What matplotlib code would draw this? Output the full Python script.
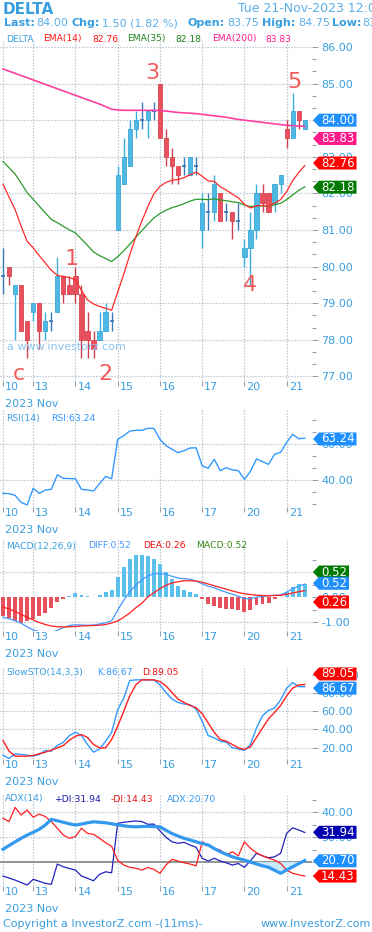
import matplotlib.pyplot as plt
import numpy as np
from matplotlib.patches import Polygon
from matplotlib.transforms import IdentityTransform, ScaledTranslation
from matplotlib.ticker import FixedLocator, FormatStrFormatter

# hourly bars, 10-Nov to 21-Nov-2023
day_pos = [0, 5, 12, 19, 26, 33, 40, 47]
day_labels = ['10', '13', '14', '15', '16', '17', '20', '21']

opens = [79.75, 80.0, 79.25, 79.5, 78.5, 78.75, 79.0, 78.25, 78.5, 78.75,
         79.75, 79.5, 79.75, 79.25, 78.25, 78.0, 78.0, 78.25, 78.5, 81.0,
         82.25, 82.75, 83.75, 84.0, 84.0, 84.25, 85.0, 83.5, 83.0, 82.75,
         82.75, 82.5, 82.75, 81.0, 81.5, 81.5, 82.0, 81.5, 81.5, 81.25,
         80.25, 80.5, 81.0, 82.0, 82.0, 81.75, 82.25, 83.75, 83.5, 84.25,
         83.75]
highs = [80.5, 80.0, 79.5, 79.5, 78.5, 79.0, 79.0, 78.75, 78.75, 80.25,
         79.75, 79.75, 80.0, 79.5, 78.75, 78.25, 78.75, 79.0, 78.75, 82.75,
         83.5, 84.0, 84.25, 84.5, 84.25, 84.5, 85.0, 83.75, 83.25, 82.75,
         83.0, 83.0, 83.0, 82.0, 82.0, 82.5, 82.0, 81.75, 81.5, 81.75,
         80.75, 81.5, 82.25, 82.25, 82.0, 82.25, 82.5, 84.0, 84.75, 84.25,
         84.0]
lows = [79.25, 79.5, 78.0, 78.25, 77.5, 78.5, 77.75, 78.0, 78.25, 78.75,
        79.0, 79.25, 79.0, 77.5, 77.5, 77.5, 78.0, 78.25, 78.25, 81.0,
        82.25, 82.75, 83.5, 83.75, 83.5, 84.0, 83.5, 82.75, 82.25, 82.25,
        82.5, 82.5, 82.5, 80.5, 81.0, 81.25, 81.25, 81.25, 80.75, 81.0,
        80.0, 79.5, 80.75, 81.5, 81.5, 81.5, 82.0, 83.25, 83.5, 83.75,
        83.75]
closes = [79.75, 79.75, 79.5, 78.25, 78.0, 79.0, 78.25, 78.5, 78.5, 79.75,
          79.25, 79.25, 79.25, 78.0, 78.0, 77.75, 78.25, 78.75, 78.5, 82.5,
          83.0, 83.75, 84.0, 84.0, 84.25, 84.25, 83.5, 83.0, 82.75, 82.5,
          82.75, 83.0, 82.75, 81.75, 81.5, 82.25, 81.25, 81.5, 81.25, 81.25,
          80.5, 81.0, 82.0, 81.75, 81.5, 82.25, 82.5, 83.5, 84.25, 84.0,
          84.0]

ema14 = [82.25, 81.90, 81.56, 81.10, 80.69, 80.51, 80.30, 80.10, 79.90, 79.76,
         79.73, 79.70, 79.64, 79.35, 79.09, 78.98, 78.91, 78.86, 78.81, 79.30,
         79.79, 80.32, 80.81, 81.24, 81.64, 81.99, 82.19, 82.30, 82.36, 82.38,
         82.43, 82.51, 82.58, 82.47, 82.34, 82.33, 82.18, 82.09, 81.98, 81.88,
         81.70, 81.60, 81.66, 81.67, 81.65, 81.73, 81.83, 82.05, 82.35, 82.57,
         82.76]
ema35 = [82.87, 82.70, 82.53, 82.28, 82.02, 81.84, 81.65, 81.47, 81.29, 81.20,
         81.10, 81.00, 80.92, 80.75, 80.58, 80.40, 80.30, 80.22, 80.14, 80.27,
         80.43, 80.61, 80.80, 80.98, 81.16, 81.33, 81.45, 81.54, 81.61, 81.66,
         81.72, 81.79, 81.84, 81.84, 81.83, 81.85, 81.82, 81.80, 81.77, 81.75,
         81.68, 81.64, 81.66, 81.66, 81.65, 81.69, 81.73, 81.83, 81.96, 82.08,
         82.18]
ema200 = [85.40, 85.34, 85.28, 85.22, 85.16, 85.10, 85.04, 84.98, 84.92, 84.86,
          84.80, 84.74, 84.68, 84.62, 84.56, 84.50, 84.44, 84.37, 84.30, 84.28,
          84.27, 84.27, 84.27, 84.27, 84.27, 84.27, 84.26, 84.25, 84.23, 84.21,
          84.20, 84.19, 84.18, 84.16, 84.14, 84.12, 84.10, 84.08, 84.05, 84.02,
          84.00, 83.98, 83.96, 83.94, 83.92, 83.90, 83.88, 83.86, 83.85, 83.84,
          83.83]

rsi = [32.6, 32.4, 31.5, 27.6, 26.1, 35.4, 32.6, 34.4, 34.8, 42.9,
       40.9, 40.8, 40.7, 34.8, 34.5, 33.9, 38.0, 42.0, 40.7, 62.6,
       64.6, 67.2, 67.6, 67.6, 68.7, 68.7, 62.6, 59.1, 57.1, 55.2,
       56.3, 57.8, 57.9, 47.9, 46.5, 51.5, 45.2, 46.9, 45.6, 45.2,
       40.4, 44.8, 51.7, 50.2, 48.7, 54.3, 55.4, 60.9, 65.4, 62.9,
       63.24]

macd_diff = [-0.81, -0.87, -0.95, -1.05, -1.19, -1.32, -1.38, -1.42, -1.44, -1.33,
             -1.22, -1.14, -1.11, -1.12, -1.13, -1.12, -1.08, -1.03, -0.95, -0.53,
             -0.13, 0.20, 0.47, 0.69, 0.84, 0.93, 0.93, 0.91, 0.83, 0.76,
             0.73, 0.71, 0.64, 0.53, 0.43, 0.37, 0.27, 0.19, 0.11, 0.03,
             -0.07, -0.06, -0.01, 0.02, 0.05, 0.07, 0.08, 0.20, 0.33, 0.43,
             0.52]
macd_dea = [-0.40, -0.48, -0.58, -0.70, -0.81, -0.92, -1.02, -1.10, -1.16, -1.19,
            -1.20, -1.19, -1.18, -1.16, -1.15, -1.14, -1.13, -1.10, -1.04, -0.96,
            -0.81, -0.64, -0.43, -0.25, 0.00, 0.17, 0.33, 0.47, 0.56, 0.61,
            0.65, 0.65, 0.64, 0.59, 0.52, 0.45, 0.38, 0.31, 0.24, 0.18,
            0.13, 0.10, 0.07, 0.06, 0.05, 0.06, 0.07, 0.11, 0.16, 0.21,
            0.26]
macd_hist = [-0.77, -0.85, -0.95, -1.03, -0.95, -0.89, -0.77, -0.65, -0.45, -0.19,
             -0.07, 0.05, 0.15, 0.07, 0.03, 0.02, 0.09, 0.21, 0.28, 0.81,
             1.21, 1.52, 1.68, 1.68, 1.64, 1.52, 1.31, 1.01, 0.71, 0.45,
             0.28, 0.21, 0.12, -0.09, -0.28, -0.35, -0.43, -0.48, -0.49, -0.52,
             -0.59, -0.52, -0.33, -0.28, -0.23, -0.09, 0.02, 0.21, 0.41, 0.51,
             0.52]

sto_k = [11.6, 8.0, 13.1, 12.4, 11.6, 10.5, 12.4, 16.7, 16.0, 22.2,
         25.8, 33.1, 36.7, 33.1, 23.3, 14.9, 18.5, 26.9, 36.7, 61.4,
         74.2, 93.4, 94.2, 94.2, 94.2, 94.2, 88.7, 80.3, 73.1, 69.4,
         67.7, 66.9, 62.2, 48.7, 33.1, 30.6, 26.9, 25.8, 19.6, 18.5,
         16.7, 23.3, 41.5, 54.9, 60.7, 63.3, 72.3, 85.1, 91.2, 86.8,
         86.67]
sto_d = [27.6, 16.0, 10.5, 10.5, 10.5, 11.3, 13.1, 14.9, 17.1, 19.6,
         22.2, 28.0, 32.4, 34.2, 31.0, 23.3, 19.6, 19.6, 28.7, 43.3,
         59.6, 76.7, 88.7, 94.2, 94.2, 94.2, 92.3, 87.6, 80.3, 73.1,
         69.4, 66.1, 63.6, 57.1, 46.9, 36.7, 28.7, 26.9, 23.3, 19.6,
         17.8, 20.7, 31.0, 41.5, 51.4, 58.5, 66.1, 76.7, 85.1, 88.7,
         89.05]

adx = [25.2, 26.7, 28.2, 29.6, 30.9, 32.0, 33.2, 34.9, 37.2, 36.6,
       36.0, 35.4, 34.9, 35.3, 35.8, 36.2, 36.0, 35.8, 35.4, 35.0,
       34.6, 34.3, 34.2, 34.3, 34.4, 34.3, 34.2, 32.8, 31.5, 30.5,
       29.6, 28.9, 28.2, 27.5, 26.9, 25.5, 24.2, 23.2, 22.2, 21.5,
       20.9, 20.1, 19.3, 18.6, 18.0, 16.8, 15.6, 16.9, 18.2, 19.5,
       20.70]
plus_di = [14.5, 13.7, 12.9, 11.9, 10.9, 13.2, 12.4, 11.6, 11.2, 19.3,
           18.2, 17.5, 16.9, 14.5, 13.6, 12.6, 15.2, 16.2, 15.8, 35.6,
           36.0, 36.3, 36.5, 36.3, 35.2, 35.3, 32.6, 30.0, 28.2, 27.6,
           28.0, 26.9, 26.0, 21.6, 20.5, 21.6, 20.5, 19.8, 18.9, 19.5,
           18.0, 20.6, 23.6, 22.6, 21.8, 22.2, 23.6, 31.6, 33.8, 32.9,
           31.94]
minus_di = [37.6, 36.3, 42.0, 38.9, 40.9, 38.0, 39.3, 38.3, 36.3, 33.6,
            30.9, 29.6, 30.3, 33.6, 31.6, 31.2, 29.6, 27.8, 26.4, 20.8,
            18.9, 18.0, 17.6, 16.9, 17.9, 17.2, 15.6, 18.9, 21.2, 20.5,
            19.8, 19.3, 18.6, 28.2, 26.9, 25.6, 24.9, 22.9, 24.2, 22.6,
            28.2, 25.6, 23.8, 22.6, 21.6, 20.9, 19.5, 16.9, 15.6, 15.0,
            14.43]

W, H = 372, 932
AXW = 312
BLUE = '#3a9fe0'
LIGHT = '#5aaee8'
GRID = '#9ca6b8'
TICK = '#9aa0aa'
UP, UPE = '#4fb9e3', '#3aa8d8'
DN, DNE = '#e8505e', '#d94452'
DOJI = '#3d7ab8'

fig = plt.figure(figsize=(W / 100, H / 100), dpi=100)
fig.patch.set_facecolor('white')


def ftxt(x, y, s, size=6.7, color=BLUE, weight='normal', ha='left'):
    return fig.text(x / W, 1 - y / H, s, fontsize=size, color=color,
                    fontweight=weight, ha=ha, va='center')


def panel(top, bottom, ylim, majors, minors, grid_y):
    ax = fig.add_axes([0, 1 - bottom / H, AXW / W, (bottom - top) / H])
    ax.set_xlim(-0.5, 51.2)
    ax.set_ylim(*ylim)
    for s in ax.spines.values():
        s.set_visible(False)
    ax.yaxis.tick_right()
    ax.yaxis.set_major_locator(FixedLocator(majors))
    ax.yaxis.set_minor_locator(FixedLocator(minors))
    ax.yaxis.set_major_formatter(FormatStrFormatter('%.2f'))
    ax.tick_params(axis='y', which='major', length=4.3, width=0.8, color=TICK,
                   pad=2.2, labelsize=8, labelcolor=BLUE)
    ax.tick_params(axis='y', which='minor', length=3, width=0.8, color=TICK)
    ax.set_xticks(day_pos)
    ax.set_xticklabels(day_labels)
    ax.tick_params(axis='x', length=3.6, width=0.8, color=TICK, pad=-2.8,
                   labelsize=8, labelcolor=BLUE)
    off = ScaledTranslation(2 / 100, 0, fig.dpi_scale_trans)
    for lbl in ax.get_xticklabels():
        lbl.set_horizontalalignment('left')
        lbl.set_transform(lbl.get_transform() + off)
    for p in day_pos:
        ax.axvline(p, color=GRID, lw=0.9, ls=(0, (0.8, 1.6)), zorder=0)
    for g in grid_y:
        ax.axhline(g, color=GRID, lw=0.9, ls=(0, (0.8, 1.6)), zorder=0)
    ftxt(5, bottom + 23, '2023 Nov', size=8, color=BLUE)
    return ax


def tag(ax, yval, text, color):
    _, yp = ax.transData.transform((0, yval))
    x0, x1 = 313, 319
    x2 = x1 + 7.5 * len(text)
    h = 6.5
    fig.add_artist(Polygon([(x0, yp), (x1, yp + h), (x2, yp + h), (x2, yp - h), (x1, yp - h)],
                           closed=True, facecolor=color, edgecolor='none',
                           transform=IdentityTransform(), zorder=5))
    fig.text((x1 + 2) / W, yp / H, text, fontsize=8.5, color='white',
             va='center', ha='left', zorder=6)


x = np.arange(len(closes))

# ---- price panel
ax = panel(40, 381, (76.874, 86.191), np.arange(77, 87),
           [v + d for v in range(76, 86) for d in (1 / 3, 2 / 3)], np.arange(77, 87))
o, h, l, c = map(np.array, (opens, highs, lows, closes))
up, dn, dj = c > o, c < o, c == o
ax.vlines(x[up], l[up], h[up], color='#3aaee0', lw=1, zorder=2)
ax.vlines(x[dn], l[dn], h[dn], color='#d04050', lw=1, zorder=2)
ax.vlines(x[dj], l[dj], h[dj], color=DOJI, lw=1, zorder=2)
ax.bar(x[up], (c - o)[up], bottom=o[up], width=0.7, color=UP, edgecolor=UPE, lw=0.6, zorder=3)
ax.bar(x[dn], (o - c)[dn], bottom=c[dn], width=0.7, color=DN, edgecolor=DNE, lw=0.6, zorder=3)
ax.hlines(c[dj], x[dj] - 0.35, x[dj] + 0.35, color=DOJI, lw=1.3, zorder=3)
ax.plot(x, ema200, color='#ff3fa0', lw=1.2, zorder=4)
ax.plot(x, ema35, color='#2a9a2a', lw=0.9, zorder=4)
ax.plot(x, ema14, color='#ff2a2a', lw=0.9, zorder=4)

for s, xi, yb in [('1', 11.3, 80.04), ('2', 17.05, 76.90), ('3', 24.7, 85.13),
                  ('4', 40.9, 79.33), ('5', 48.3, 84.88), ('c', 2.7, 76.90)]:
    ax.text(xi, yb, s, color='#f05a5a', fontsize=16, ha='center', va='baseline', zorder=6)
ftxt(7, 347, 'a www.investorz.com', size=8, color='#8cc3ee')

tag(ax, 84.0, '84.00', '#1e8fff')
tag(ax, 83.5, '83.83', '#ff1a8c')
tag(ax, 82.83, '82.76', '#ff0000')
tag(ax, 82.17, '82.18', '#007a00')

# header
ftxt(3, 10, 'DELTA', size=11, weight='bold', color=BLUE)
ftxt(238, 8, 'Tue 21-Nov-2023 12:00', size=9, color=LIGHT)
for xp, s, bold in [(4, 'Last:', True), (36, '84.00', False), (71, 'Chg:', True),
                    (102, '1.50 (1.82 %)', False), (187, 'Open:', True), (227, '83.75', False),
                    (262, 'High:', True), (298, '84.75', False), (332, 'Low:', True),
                    (362, '83.25', False)]:
    ftxt(xp, 23.5, s, size=8, color=BLUE if bold else LIGHT, weight='bold' if bold else 'normal')
for xp, s, col in [(6, 'DELTA', BLUE), (43, 'EMA(14)', '#ff1010'), (92, '82.76', '#ff1010'),
                   (127, 'EMA(35)', '#1a801a'), (175, '82.18', '#1a801a'),
                   (212, 'EMA(200)', '#ff1a8c'), (265, '83.83', '#ff1a8c')]:
    ftxt(xp, 39, s, size=6.6, color=col)

# ---- RSI
ax = panel(410, 507, (25.0, 78.9), [40, 60],
           [26.67, 33.33, 46.67, 53.33, 66.67, 73.33], [40, 60])
ax.plot(x, rsi, color='#3399ff', lw=1)
ftxt(6, 418.5, 'RSI(14)', color=BLUE)
ftxt(51, 418.5, 'RSI:63.24', color='#3399ff')
tag(ax, 62.8, '63.24', '#1e8fff')

# ---- MACD
ax = panel(540, 631, (-1.36, 2.28), [-1, 0, 1], [-0.5, 0.5, 1.5], [-1, 1])
hist = np.array(macd_hist)
ax.bar(x, hist, width=0.65, color=np.where(hist >= 0, '#5bc0eb', '#e8505e'), zorder=2)
ax.plot(x, macd_diff, color='#4499ff', lw=0.9, zorder=3)
ax.plot(x, macd_dea, color='#ff2020', lw=0.9, zorder=3)
ftxt(6, 546, 'MACD(12,26,9)', color=BLUE)
ftxt(88, 546, 'DIFF:0.52', color='#4499ff')
ftxt(143, 546, 'DEA:0.26', color='#ee1111')
ftxt(196, 546, 'MACD:0.52', color='#3a8a1a')
tag(ax, 1.0, '0.52', '#007a00')
tag(ax, 0.55, '0.52', '#1e8fff')
tag(ax, -0.2, '0.26', '#ff0000')

# ---- Slow STO
ax = panel(667, 759, (7.4, 108.3), [20, 40, 60, 80, 100], [], [20, 40, 60, 80])
ax.plot(x, sto_k, color='#3399ff', lw=1, zorder=3)
ax.plot(x, sto_d, color='#ff2020', lw=1, zorder=3)
ftxt(6, 672.5, 'SlowSTO(14,3,3)', color=BLUE)
ftxt(97, 672.5, 'K:86.67', color='#3399ff')
ftxt(142, 672.5, 'D:89.05', color='#ee1111')
tag(ax, 100.7, '89.05', '#ff0000')
tag(ax, 85.1, '86.67', '#1e8fff')

# ---- ADX
ax = panel(793, 886, (10.52, 47.72), [20, 30, 40], [15, 25, 35, 45], [30, 40])
adx_a = np.array(adx)
ax.axhline(20, color='#8c8c8c', lw=1.3, zorder=1)
ax.fill_between(x, adx_a, 20, where=adx_a <= 20, interpolate=True, color='#c8ecfb', zorder=1)
ax.plot(x, plus_di, color='#2222bb', lw=0.9, zorder=3)
ax.plot(x, minus_di, color='#ff2020', lw=0.9, zorder=3)
ax.plot(x, adx, color='#3399ee', lw=2.3, zorder=4)
ftxt(5, 799, 'ADX(14)', color=BLUE)
ftxt(54, 799, '+DI:31.94', color='#1a1aaa')
ftxt(111, 799, '-DI:14.43', color='#ee1111')
ftxt(167, 799, 'ADX:20.70', color='#3399ee')
tag(ax, 32.0, '31.94', '#0000b0')
tag(ax, 20.6, '20.70', '#1e8fff')
tag(ax, 14.5, '14.43', '#ff0000')

ftxt(3, 924, 'Copyright a InvestorZ.com -(11ms)-', size=8, color=BLUE)
ftxt(371, 924, 'www.InvestorZ.com', size=8, color=BLUE, ha='right')

fig.savefig('out.png', dpi=100)
